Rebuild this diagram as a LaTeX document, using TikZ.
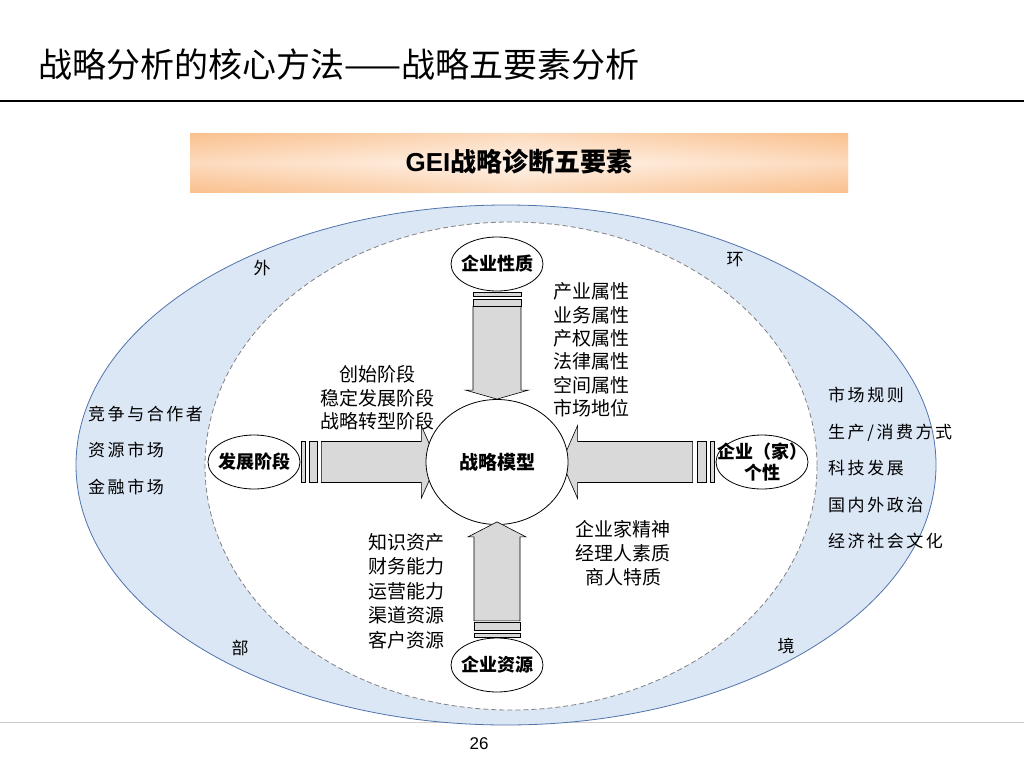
\documentclass[tikz,border=0pt]{standalone}
\usepackage{fontspec}
\setmainfont{Noto Sans CJK SC}
\newfontfamily\arial{Liberation Sans}
\newfontfamily\cjkwide[LetterSpace=15]{Noto Sans CJK SC}
\usetikzlibrary{shapes.geometric,positioning}
\definecolor{bandorange}{RGB}{250,193,143}
\definecolor{bandlight}{RGB}{255,244,235}
\definecolor{envblue}{RGB}{220,231,246}
\definecolor{envline}{RGB}{79,115,170}
\definecolor{arrowgray}{RGB}{217,217,217}
\tikzset{
  element/.style={ellipse,draw,fill=white,line width=0.8pt,minimum width=92pt,minimum height=54pt,inner sep=0pt},
  elementtext/.style={font=\fontsize{18}{21}\selectfont\bfseries,align=center,inner sep=0pt},
  blockarrow/.style={draw,fill=arrowgray,line width=0.6pt},
  notes/.style={inner sep=0pt,font=\fontsize{19}{23.4}\selectfont},
  envtext/.style={inner sep=0pt,font=\cjkwide\fontsize{17}{36.5}\selectfont,align=left,anchor=west},
}

\begin{document}
\begin{tikzpicture}[x=1pt,y=-1pt,node distance=200pt,on grid]
\useasboundingbox (0,0) rectangle (1024,768);
% title and frame lines
\node[anchor=west,inner sep=0pt,font=\fontsize{34}{34}\selectfont] (Title) at (38,65) {战略分析的核心方法——战略五要素分析};
\draw[line width=2pt] (0,101) -- (1024,101);
\draw[gray!40,line width=1pt] (0,722) -- (1024,722);
\node[font=\arial\fontsize{17}{17}\selectfont] (Page) at (479,744) {26};
% heading band
\shade[left color=bandorange,right color=bandorange,middle color=bandlight] (190,133) rectangle (848,192);
\shade[top color=bandorange,bottom color=bandorange,middle color=bandlight,opacity=0.5] (190,133) rectangle (848,192);
\node[font=\fontsize{26}{26}\selectfont\bfseries] (Head) at (519,162) {{\arial GEI}战略诊断五要素};
% environment ring
\filldraw[fill=envblue,draw=envline,line width=0.8pt] (506,465) ellipse [x radius=430,y radius=260];
\filldraw[fill=white,draw=gray,dash pattern=on 5pt off 3pt,line width=0.8pt] (511,466) ellipse [x radius=306,y radius=244];
\foreach \ch/\px/\py [count=\i] in {外/262/268, 环/735/260, 部/240/648, 境/786/646}
  \node[font=\fontsize{17}{17}\selectfont] (Env\i) at (\px,\py) {\ch};
\node[envtext] (Outside) at (88,450) {竞争与合作者\\资源市场\\金融市场};
\node[envtext] (Macro) at (828,468) {市场规则\\生产/消费方式\\科技发展\\国内外政治\\经济社会文化};
% five elements
\node[element,label={[elementtext]center:发展阶段}] (Stage) at (254,462) {};
\node[element,label={[elementtext]center:企业（家）\\个性}] (Person) [right=508pt of Stage] {};
\draw[blockarrow] (Stage.east) ++(1,-20.5) rectangle ++(4,41);
\draw[blockarrow] (Stage.east) ++(9,-20.5) rectangle ++(8,41);
\draw[blockarrow] (Stage.east) ++(21,-20.5) -- ++(100,0) -- ++(0,-15.5) -- ++(16,36) -- ++(-16,36) -- ++(0,-15.5) -- ++(-100,0) -- cycle;
\draw[blockarrow] (Person.west) ++(-5,-20.5) rectangle ++(4,41);
\draw[blockarrow] (Person.west) ++(-18,-20.5) rectangle ++(9,41);
\draw[blockarrow] (Person.west) ++(-23,-20.5) -- ++(-115,0) -- ++(0,-16) -- ++(-16,36.5) -- ++(16,36.5) -- ++(0,-16) -- ++(115,0) -- cycle;
\node[element,minimum width=142pt,minimum height=125pt,font=\fontsize{19}{19}\selectfont\bfseries] (Model) [right=243pt of Stage] {战略模型};
\node[element,label={[elementtext]center:企业性质}] (Nature) [above=198pt of Model] {};
\node[element,label={[elementtext]center:企业资源}] (Resource) [below=203pt of Model] {};
\draw[blockarrow] (Model.north) -- ++(-31.5,-9) -- ++(7.5,0) -- ++(0,-84) -- ++(48,0) -- ++(0,84) -- ++(7.5,0) -- cycle;
\draw[blockarrow] (Nature.south) ++(-24,1) rectangle ++(48,4);
\draw[blockarrow] (Nature.south) ++(-24,8) rectangle ++(48,7);
\draw[blockarrow] (Model.south) ++(0,-3) -- ++(29,15) -- ++(-6,0) -- ++(0,84) -- ++(-46,0) -- ++(0,-84) -- ++(-6,0) -- cycle;
\draw[blockarrow] (Resource.north) ++(-23,-0.5) rectangle ++(46,-4);
\draw[blockarrow] (Resource.north) ++(-23,-7) rectangle ++(46,-8);
% notes
\node[notes,align=left,anchor=west] (NatureNote) at (553,350) {产业属性\\业务属性\\产权属性\\法律属性\\空间属性\\市场地位};
\node[notes,align=center] (StageNote) at (377,398) {创始阶段\\稳定发展阶段\\战略转型阶段};
\node[notes,align=left,anchor=west,font=\fontsize{19}{24.5}\selectfont] (ResourceNote) at (368,591) {知识资产\\财务能力\\运营能力\\渠道资源\\客户资源};
\node[notes,align=center,font=\fontsize{19}{24}\selectfont] (PersonNote) at (623,553) {企业家精神\\经理人素质\\商人特质};
\end{tikzpicture}
\end{document}
